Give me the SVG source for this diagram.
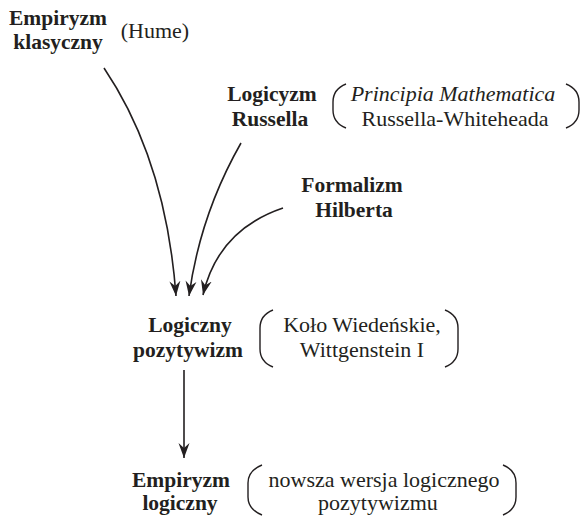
<svg xmlns="http://www.w3.org/2000/svg" width="581" height="517" viewBox="0 0 581 517">
<style>
.b{font-family:"Liberation Serif","Times New Roman",serif;font-weight:bold;font-size:21.5px;fill:#231f20;text-anchor:middle}
.r{font-family:"Liberation Serif","Times New Roman",serif;font-size:22px;fill:#231f20;text-anchor:middle}
.i{font-style:italic}
.br{fill:none;stroke:#231f20;stroke-width:1.4}
.c{fill:none;stroke:#231f20;stroke-width:1.6}
</style>
<defs>
<marker id="ah" markerUnits="userSpaceOnUse" markerWidth="16" markerHeight="12" viewBox="-15 -6 16 12" refX="0" refY="0" orient="auto">
<path d="M0,0 L-15,-5.5 L-10,0 L-15,5.5 Z" fill="#231f20"/>
</marker>
</defs>
<rect width="581" height="517" fill="#fff"/>
<g id="empiryzm-klasyczny">
<text class="b" x="58" y="25">Empiryzm</text>
<text class="b" x="58" y="49">klasyczny</text>
<text class="r" x="155" y="38">(Hume)</text>
</g>
<g id="logicyzm-russella">
<text class="b" x="272" y="101">Logicyzm</text>
<text class="b" x="270" y="126">Russella</text>
<path class="br" d="M346,84 C336,88 333,94 333,102 L333,110 C333,118 336,124 346,128"/>
<text class="r i" x="453" y="101">Principia Mathematica</text>
<text class="r" x="455" y="126">Russella-Whiteheada</text>
<path class="br" d="M566,84 C576,88 579,94 579,102 L579,110 C579,118 576,124 566,128"/>
</g>
<g id="formalizm-hilberta">
<text class="b" x="352" y="192">Formalizm</text>
<text class="b" x="354" y="217">Hilberta</text>
</g>
<g id="logiczny-pozytywizm">
<text class="b" x="190" y="332">Logiczny</text>
<text class="b" x="188" y="357">pozytywizm</text>
<path class="br" d="M273,310 C263,314 260,320 260,328 L260,349 C260,357 263,363 273,367"/>
<text class="r" x="362" y="332">Koło Wiedeńskie,</text>
<text class="r" x="362" y="357">Wittgenstein I</text>
<path class="br" d="M445,310 C455,314 458,320 458,328 L458,349 C458,357 455,363 445,367"/>
</g>
<g id="empiryzm-logiczny">
<text class="b" x="181" y="487">Empiryzm</text>
<text class="b" x="180" y="510">logiczny</text>
<path class="br" d="M262,465 C252,469 248,475 248,483 L248,497 C248,505 252,511 262,515"/>
<text class="r" x="384" y="487">nowsza wersja logicznego</text>
<text class="r" x="378" y="510">pozytywizmu</text>
<path class="br" d="M503,465 C513,469 516,475 516,483 L516,497 C516,505 513,511 503,515"/>
</g>
<g id="connectors">
<path class="c" d="M104,68 Q166,160 176,296" marker-end="url(#ah)"/>
<path class="c" d="M241,143 Q200,215 189,296" marker-end="url(#ah)"/>
<path class="c" d="M283,208 Q218,230 203,295" marker-end="url(#ah)"/>
<path class="c" d="M184,370 L184,458" marker-end="url(#ah)"/>
</g>
</svg>
